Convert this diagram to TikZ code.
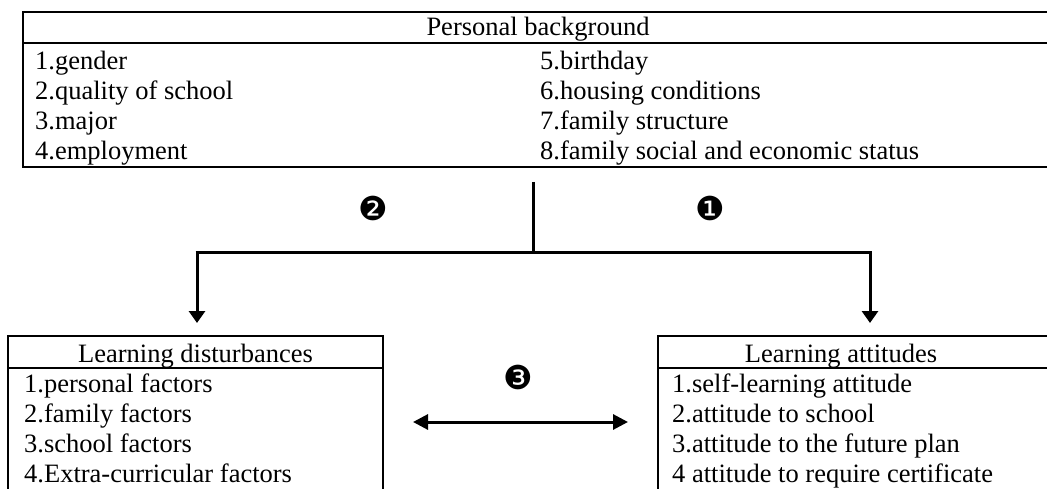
\documentclass[tikz,border=0pt]{standalone}
\usepackage{fontspec}
\setmainfont{Liberation Serif}
\newfontfamily\dingfont{DejaVu Sans}
\usetikzlibrary{arrows.meta}
\tikzset{
  txt/.style={anchor=base west, inner sep=0pt, font=\fontsize{26.5}{30}\selectfont},
  hdr/.style={anchor=base, inner sep=0pt, font=\fontsize{26.5}{30}\selectfont},
  frame/.style={line width=2pt, line cap=rect},
  conn/.style={line width=3pt},
  tip/.style={-{Triangle[length=12pt,width=16pt]}},
  num/.style={inner sep=0pt, font=\dingfont\fontsize{33}{33}\selectfont}
}
\begin{document}
\begin{tikzpicture}[x=1pt,y=-1pt]
\useasboundingbox (0,0) rectangle (1047,489);
\clip (0,0) rectangle (1047,489);
% top box
\draw[frame] (1060,12) -- (23,12) -- (23,167) -- (1060,167);
\draw[frame] (23,43) -- (1060,43);
\node[hdr] (pb) at (538,36) {Personal background};
\node[txt] (p1) at (35,70) {1.gender};
\node[txt] (p2) at (35,100) {2.quality of school};
\node[txt] (p3) at (35,130) {3.major};
\node[txt] (p4) at (35,160) {4.employment};
\node[txt] (p5) at (540,70) {5.birthday};
\node[txt] (p6) at (540,100) {6.housing conditions};
\node[txt] (p7) at (540,130) {7.family structure};
\node[txt] (p8) at (540,160) {8.family social and economic status};
% left box
\draw[frame] (8,500) -- (8,336) -- (383,336) -- (383,500);
\draw[frame] (8,368) -- (383,368);
\node[hdr] (ld) at (195.5,362) {Learning disturbances};
\node[txt] (d1) at (24,392) {1.personal factors};
\node[txt] (d2) at (24,422) {2.family factors};
\node[txt] (d3) at (24,452) {3.school factors};
\node[txt] (d4) at (24,482) {4.Extra-curricular factors};
% right box
\draw[frame] (1060,336) -- (658,336) -- (658,500);
\draw[frame] (658,368) -- (1060,368);
\node[hdr] (la) at (841,362) {Learning attitudes};
\node[txt] (a1) at (672,392) {1.self-learning attitude};
\node[txt] (a2) at (672,422) {2.attitude to school};
\node[txt] (a3) at (672,452) {3.attitude to the future plan};
\node[txt] (a4) at (672,482) {4 attitude to require certificate};
% connectors
\coordinate (s) at (533,182);
\coordinate (j) at (533,253);
\coordinate (lc) at (197,253);
\coordinate (rc) at (870,253);
\coordinate (lt) at (197,323);
\coordinate (rt) at (870,323);
\coordinate (bl) at (413,422);
\coordinate (br) at (628,422);
\draw[conn] (s) -- (j);
\draw[conn] ([xshift=-1.5pt]lc) -- ([xshift=1.5pt]rc);
\draw[conn,tip] (lc) -- (lt);
\draw[conn,tip] (rc) -- (rt);
\draw[conn,{Triangle[length=15pt,width=15pt]}-{Triangle[length=15pt,width=15pt]}] (bl) -- (br);
% numbers
\node[num] (n2) at (373,208) {❷};
\node[num] (n1) at (710,208) {❶};
\node[num] (n3) at (518,377) {❸};
\end{tikzpicture}
\end{document}
